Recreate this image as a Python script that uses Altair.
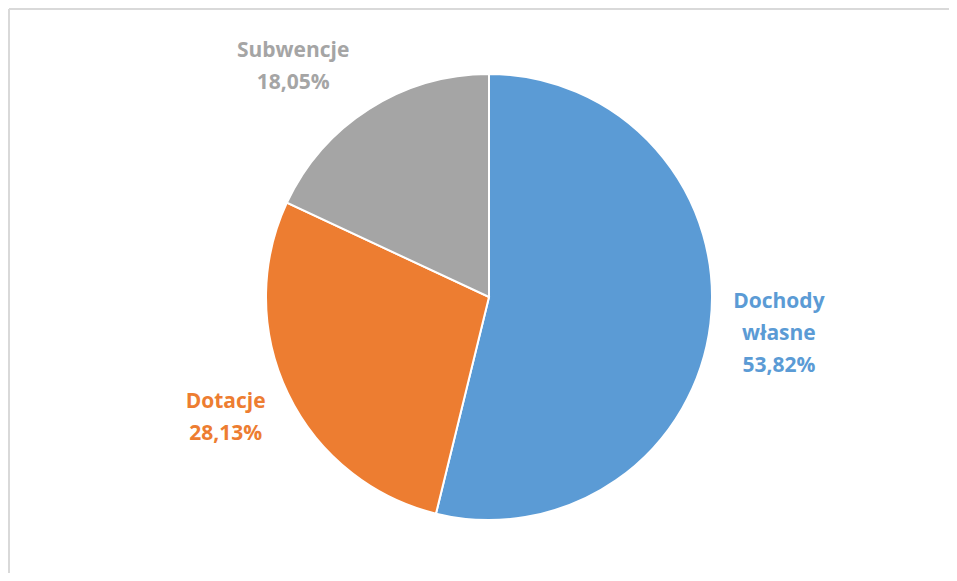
import altair as alt
import pandas as pd

categories = ["Dochody własne", "Dotacje", "Subwencje"]
label_lines = ["Dochody\nwłasne", "Dotacje", "Subwencje"]
values = [53.82, 28.13, 18.05]
value_labels = ["53,82%", "28,13%", "18,05%"]
colors = ["#5B9BD5", "#ED7D31", "#A5A5A5"]

df = pd.DataFrame({
    "kategoria": categories,
    "nazwa": label_lines,
    "udzial": values,
    "procent": value_labels,
    "kolejnosc": list(range(len(categories))),
})
df["etykieta"] = df["nazwa"] + "\n" + df["procent"]

W, H = 941, 565
CX, CY = 479, 287

theta_scale = alt.Scale(domain=[0, sum(values)], range=[0, 6.283185307179586])
color_enc = alt.Color("kategoria:N", scale=alt.Scale(domain=categories, range=colors), legend=None)

stacked = alt.Chart(df).transform_stack(
    stack="udzial", groupby=[], as_=["start", "end"],
    sort=[alt.SortField("kolejnosc", order="ascending")],
)

pie = stacked.mark_arc(outerRadius=223, stroke="white", strokeWidth=2).encode(
    theta=alt.Theta("start:Q", stack=None, scale=theta_scale),
    theta2="end:Q",
    color=color_enc,
    x=alt.value(CX), y=alt.value(CY),
)

def label(cat, dx, dy):
    return stacked.transform_filter(alt.datum.kategoria == cat).transform_calculate(
        mid="(datum.start + datum.end) / 2"
    ).mark_text(
        radius=292, font="Open Sans", fontSize=21, fontWeight="bold",
        lineBreak="\n", lineHeight=32, align="center", baseline="middle",
        dx=dx, dy=dy,
    ).encode(
        theta=alt.Theta("mid:Q", stack=None, scale=theta_scale),
        color=color_enc,
        x=alt.value(CX), y=alt.value(CY), text="etykieta:N",
    )

labels = [
    label(categories[0], 0, -30),
    label(categories[1], 0, -21),
    label(categories[2], -39, 0),
]

border_top = alt.Chart(df).mark_rule(color="#D9D9D9", strokeWidth=2).encode(
    x=alt.value(-1), x2=alt.value(W), y=alt.value(-1)
)
border_left = alt.Chart(df).mark_rule(color="#D9D9D9", strokeWidth=2).encode(
    x=alt.value(-1), y=alt.value(-1), y2=alt.value(H)
)

chart = alt.layer(border_top, border_left, pie, *labels).properties(
    width=W, height=H, padding=0,
    autosize=alt.AutoSizeParams(type="fit", contains="padding"),
).configure_view(stroke=None)

chart.save("out.html", embed_options={"renderer": "svg", "actions": False})
